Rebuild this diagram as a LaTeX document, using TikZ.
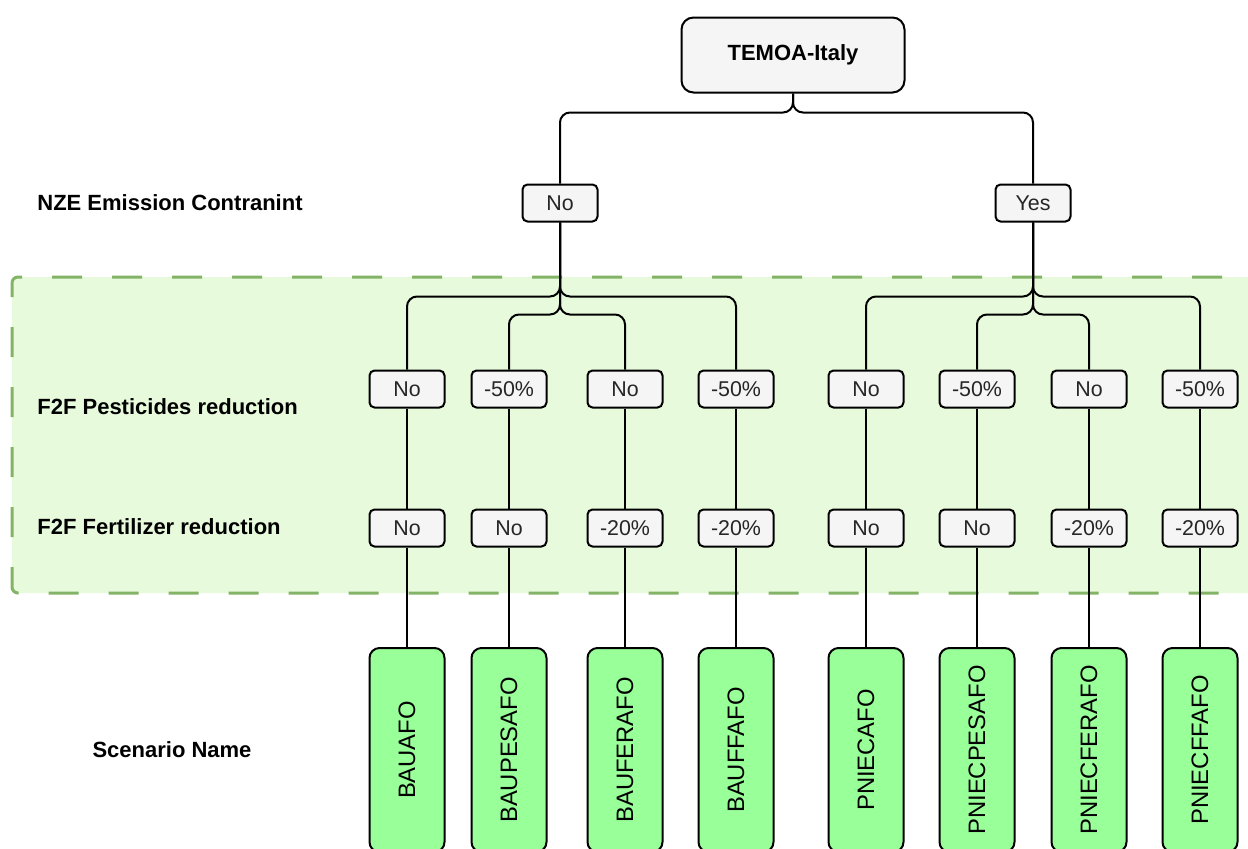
\documentclass[tikz,border=0pt]{standalone}
\usepackage{fontspec}
\setmainfont{Liberation Sans}

\definecolor{boxgray}{HTML}{F5F5F5}
\definecolor{zonefill}{HTML}{E8FADC}
\definecolor{zoneline}{HTML}{82B366}
\definecolor{scenfill}{HTML}{99FF99}

\tikzset{
  choice/.style={draw, line width=1pt, fill=boxgray, rounded corners=2.5pt,
    minimum width=37.5pt, minimum height=18.5pt, inner sep=0pt,
    font=\fontsize{10.7}{12}\selectfont, text=black!85},
  scen/.style={draw, line width=1pt, fill=scenfill, rounded corners=5pt, rotate=90,
    minimum width=102pt, minimum height=37.5pt, inner sep=0pt,
    font=\fontsize{11.9}{13}\selectfont},
  level/.style={anchor=west, inner sep=0pt, font=\bfseries\fontsize{11}{13}\selectfont},
  edge/.style={line width=1pt, rounded corners=5pt}
}

\begin{document}
\begin{tikzpicture}[x=0.5pt,y=-0.5pt]
\useasboundingbox (0,0) rectangle (1248,848);
\clip (0,0) rectangle (1248,848);

% dashed band behind the two F2F levels
\draw[zoneline, fill=zonefill, line width=1.5pt, dash pattern=on 15pt off 15pt,
  dash phase=8pt, rounded corners=3pt] (12,277) rectangle (1290,593);

% level names
\node[level] (lblnze) at (37,203) {NZE Emission Contranint};
\node[level] (lblpest) at (37,407) {F2F Pesticides reduction};
\node[level] (lblfert) at (37,527) {F2F Fertilizer reduction};
\node[level, anchor=center] (lblscen) at (172,750) {Scenario Name};

% root and NZE choice
\node[choice, minimum width=111.5pt, minimum height=37.5pt, rounded corners=6pt,
  text=black, font=\bfseries\fontsize{11}{13}\selectfont] (temoa) at (793,55) {TEMOA-Italy};
\node[choice] (nzeno) at (560,203) {No};
\node[choice] (nzeyes) at (1033,203) {Yes};

% pesticides
\node[choice] (pest1) at (407,389) {No};
\node[choice] (pest2) at (509,389) {-50\%};
\node[choice] (pest3) at (625,389) {No};
\node[choice] (pest4) at (736,389) {-50\%};
\node[choice] (pest5) at (866,389) {No};
\node[choice] (pest6) at (977,389) {-50\%};
\node[choice] (pest7) at (1089,389) {No};
\node[choice] (pest8) at (1200,389) {-50\%};

% fertilizer
\node[choice] (fert1) at (407,528) {No};
\node[choice] (fert2) at (509,528) {No};
\node[choice] (fert3) at (625,528) {-20\%};
\node[choice] (fert4) at (736,528) {-20\%};
\node[choice] (fert5) at (866,528) {No};
\node[choice] (fert6) at (977,528) {No};
\node[choice] (fert7) at (1089,528) {-20\%};
\node[choice] (fert8) at (1200,528) {-20\%};

% scenarios
\node[scen] (sc1) at (407,750) {BAUAFO};
\node[scen] (sc2) at (509,750) {BAUPESAFO};
\node[scen] (sc3) at (625,750) {BAUFERAFO};
\node[scen] (sc4) at (736,750) {BAUFFAFO};
\node[scen] (sc5) at (866,750) {PNIECAFO};
\node[scen] (sc6) at (977,750) {PNIECPESAFO};
\node[scen] (sc7) at (1089,750) {PNIECFERAFO};
\node[scen] (sc8) at (1200,750) {PNIECFFAFO};

% tree
\draw[edge] (temoa.south) -- ++(0,19) -| (nzeno.north);
\draw[edge] (temoa.south) -- ++(0,19) -| (nzeyes.north);

\draw[edge] (nzeno.south) -- ++(0,74) -| (pest1.north);
\draw[edge] (nzeno.south) -- ++(0,92) -| (pest2.north);
\draw[edge] (nzeno.south) -- ++(0,92) -| (pest3.north);
\draw[edge] (nzeno.south) -- ++(0,74) -| (pest4.north);
\draw[edge] (nzeyes.south) -- ++(0,74) -| (pest5.north);
\draw[edge] (nzeyes.south) -- ++(0,92) -| (pest6.north);
\draw[edge] (nzeyes.south) -- ++(0,92) -| (pest7.north);
\draw[edge] (nzeyes.south) -- ++(0,74) -| (pest8.north);

\draw[edge] (pest1) -- (fert1) -- (sc1);
\draw[edge] (pest2) -- (fert2) -- (sc2);
\draw[edge] (pest3) -- (fert3) -- (sc3);
\draw[edge] (pest4) -- (fert4) -- (sc4);
\draw[edge] (pest5) -- (fert5) -- (sc5);
\draw[edge] (pest6) -- (fert6) -- (sc6);
\draw[edge] (pest7) -- (fert7) -- (sc7);
\draw[edge] (pest8) -- (fert8) -- (sc8);

\end{tikzpicture}
\end{document}
